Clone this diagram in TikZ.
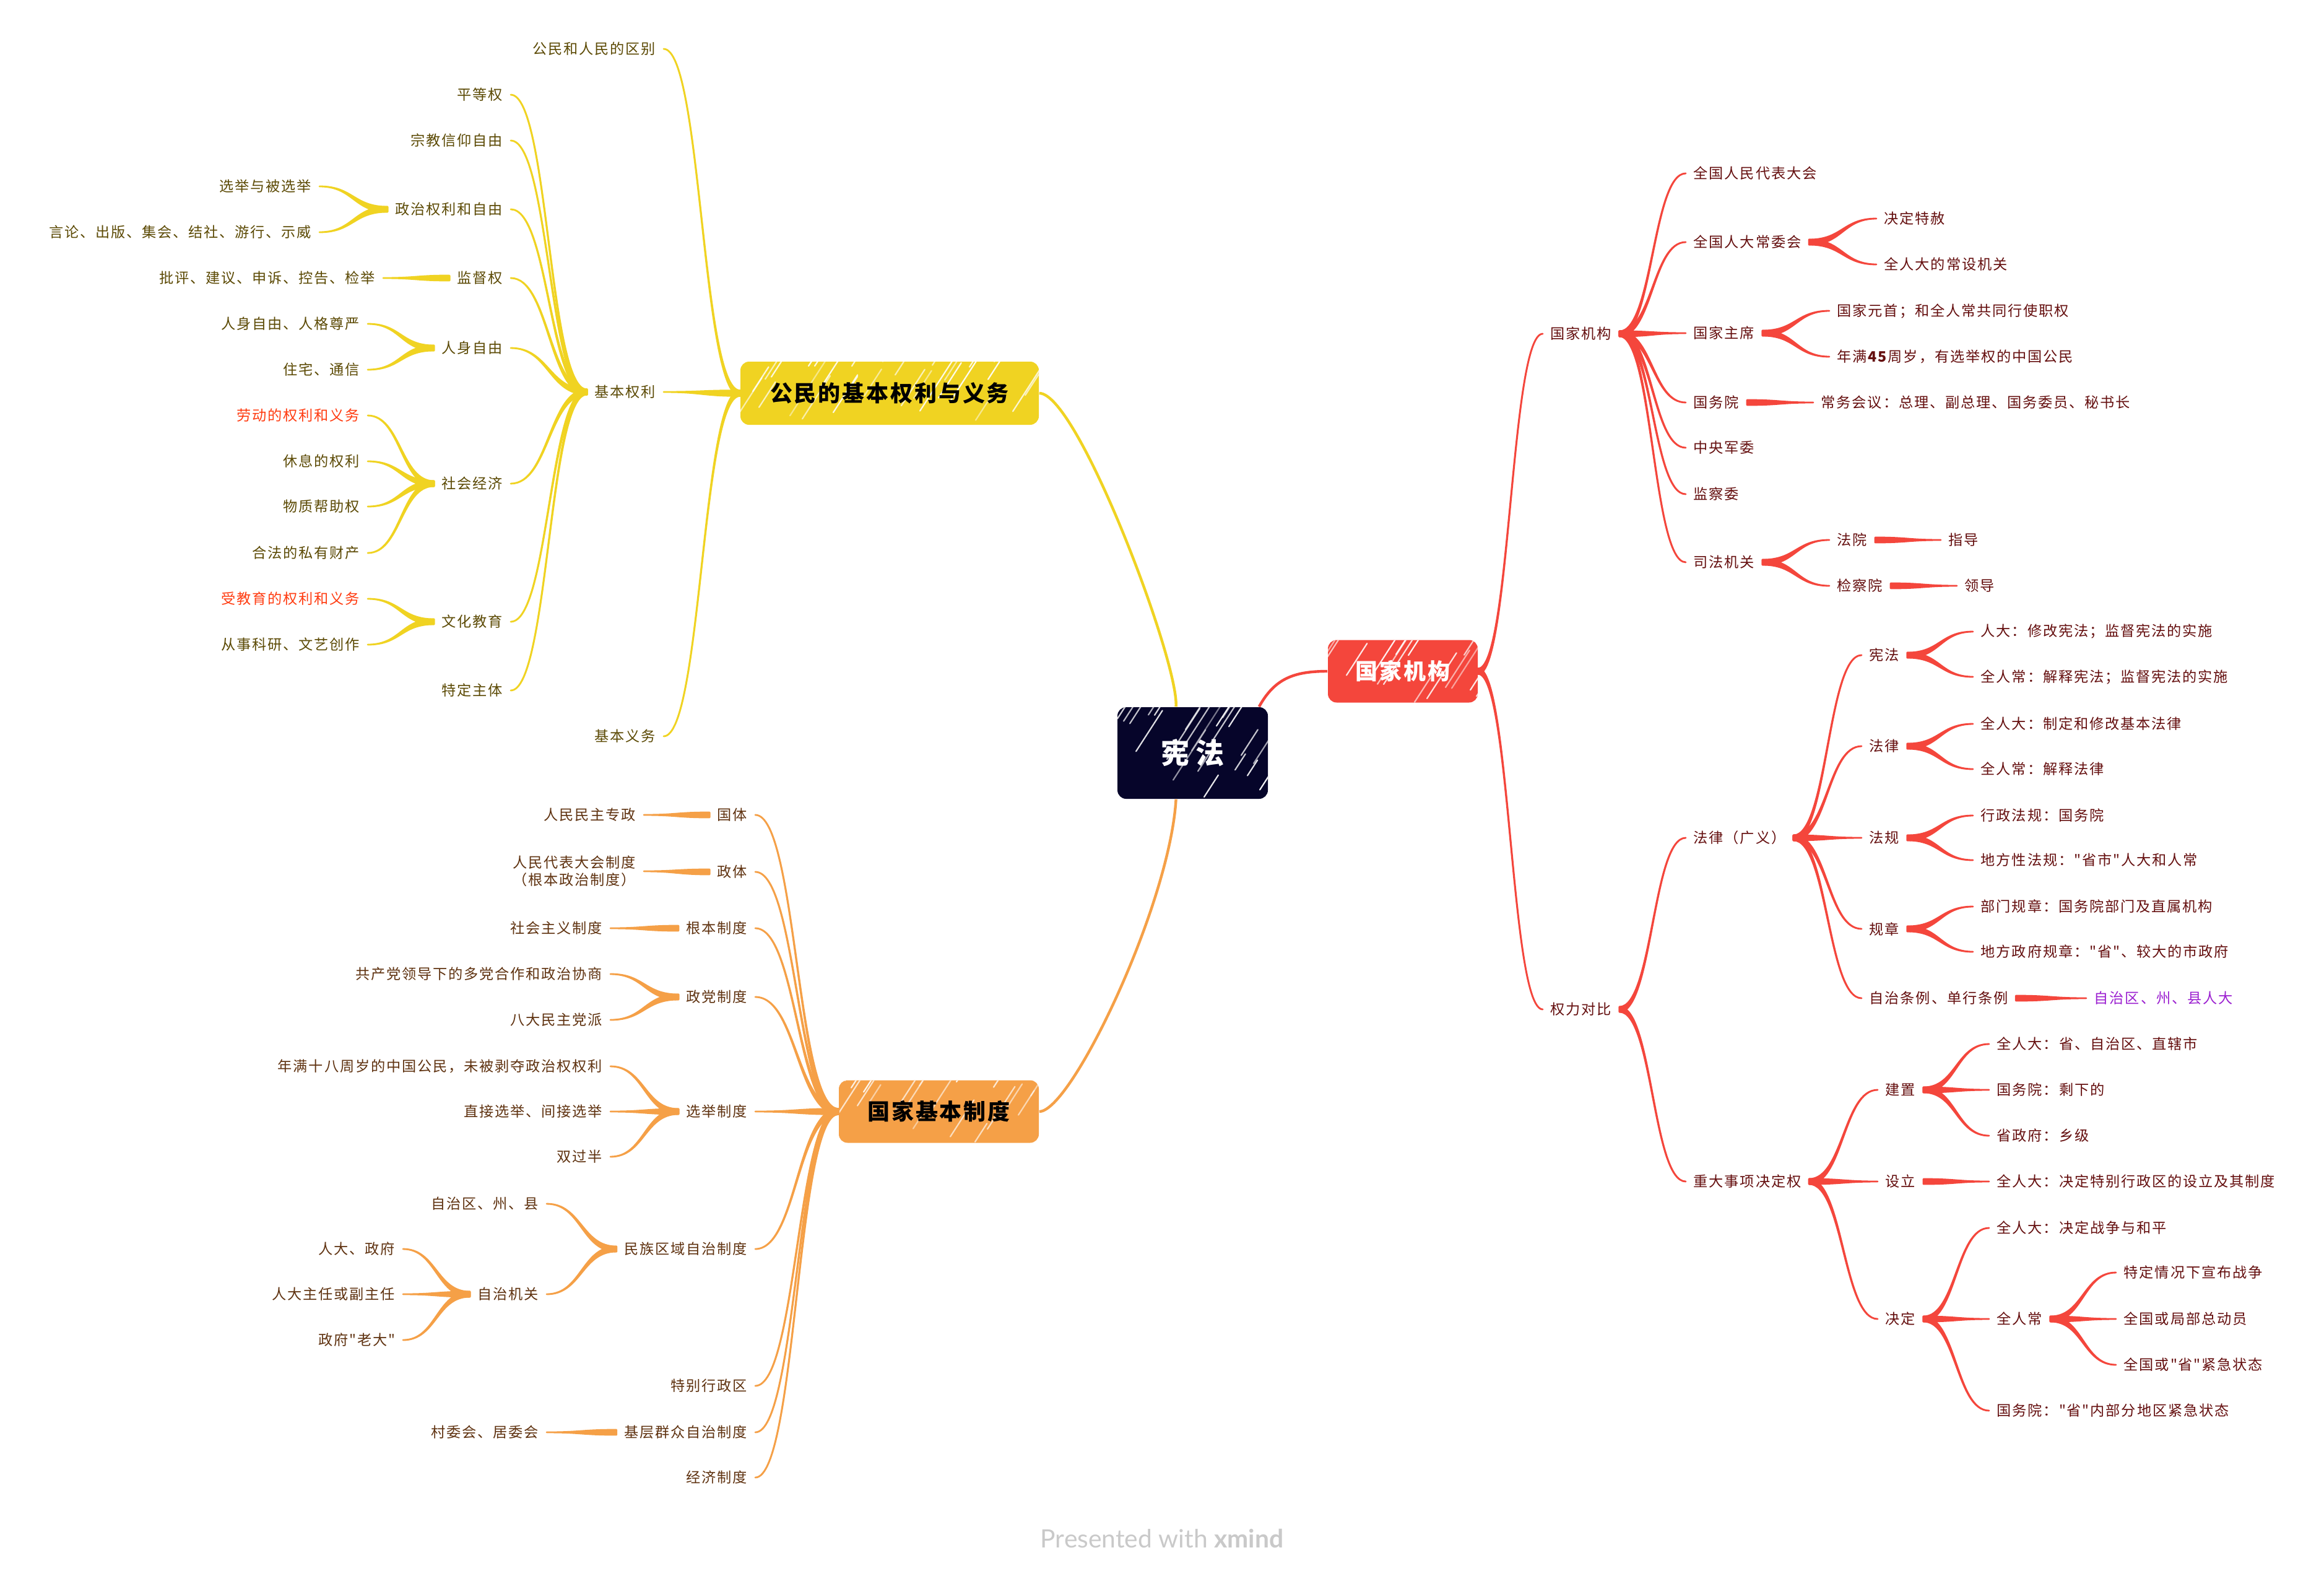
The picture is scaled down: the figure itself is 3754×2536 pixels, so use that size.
\documentclass[tikz,border=0pt]{standalone}
\usepackage{fontspec}
\setmainfont{Noto Sans CJK SC}
\newfontfamily\hand[LetterSpace=8]{Noto Sans CJK SC}
\newfontfamily\latof{Lato}
\usetikzlibrary{calc}
\definecolor{ylw}{HTML}{F0D322}
\definecolor{org}{HTML}{F5A047}
\definecolor{red}{HTML}{F4463C}
\definecolor{navy}{HTML}{06052A}
\definecolor{ytxt}{HTML}{5C4A05}
\definecolor{otxt}{HTML}{5F3210}
\definecolor{rtxt}{HTML}{650F0F}
\definecolor{hlt}{HTML}{FF3B10}
\definecolor{purp}{HTML}{9B1FD0}
\definecolor{footg}{HTML}{C9C9C9}
\newcommand\conn[4]{\filldraw[#3, line width=0.7pt, line join=round]
  let \p1=(#1), \p2=(#2), \p3=($(\p1)!0.5!(\p2)$) in
  (\x1,\y1+#4) .. controls (\x3,\y1+#4) and (\x3,\y2) .. (\x2,\y2)
  .. controls (\x3,\y2) and (\x3,\y1-#4) .. (\x1,\y1-#4) -- cycle;}
\tikzset{
  base/.style={inner xsep=3pt, inner ysep=1pt, font=\hand\fontsize{5.8pt}{7pt}\selectfont},
  L/.style={base, anchor=east},
  R/.style={base, anchor=west},
  yl/.style={L, text=ytxt},
  ol/.style={L, text=otxt},
  rr/.style={R, text=rtxt},
  hatch/.style={path picture={
    \pgfmathsetseed{#1}
    \foreach \i in {-100,-90,...,520}{
      \pgfmathsetmacro\ra{rnd*170}
      \pgfmathsetmacro\rb{25+rnd*110}
      \pgfmathsetmacro\ro{0.45+rnd*0.5}
      \draw[white, opacity=\ro, line width=0.55pt, line cap=round]
        ($(path picture bounding box.south west)+(\i,-\ra)$) -- ++(0.55*\rb,-0.85*\rb);
    }}},
  topic/.style={rounded corners=3.5pt, inner sep=0pt, font=\hand\bfseries\fontsize{9pt}{10pt}\selectfont},
}
\begin{document}
\begin{tikzpicture}[x=0.25pt,y=-0.25pt]
\fill[white] (0,0) rectangle (3754,2536);
\useasboundingbox (0,0) rectangle (3754,2536);

% central and main topics
\node[topic, fill=navy, hatch=3, minimum width=60.75pt, minimum height=37pt, text=white,
  font=\hand\bfseries\fontsize{11.5pt}{12pt}\selectfont] (c) at (1926.5,1216) {宪\hspace{2.5pt}法};
\node[topic, fill=ylw, hatch=5, minimum width=120.5pt, minimum height=25.5pt, text=black] (ty) at (1437,635) {公民的基本权利与义务};
\node[topic, fill=red, hatch=7, minimum width=60.5pt, minimum height=25.25pt, text=white] (tr) at (2266,1084) {国家机构};
\node[topic, fill=org, hatch=9, minimum width=80.75pt, minimum height=25.25pt, text=black] (to) at (1516.5,1795) {国家基本制度};

\draw[ylw, line width=1.1pt] ($(c.north west)!0.39!(c.north east)$) .. controls +(5,-72) and +(62,0) .. (ty.east);
\draw[org, line width=1.1pt] ($(c.south west)!0.39!(c.south east)$) .. controls +(-10,170) and +(52,0) .. (to.east);
\draw[red, line width=1.1pt] ($(c.north east)+(-15,0)$) .. controls +(25,-45) and +(-55,0) .. (tr.west);

% ===== yellow branch =====
\node[yl] (yA) at (1072,79) {公民和人民的区别};
\node[yl] (yB) at (1072,633) {基本权利};
\node[yl] (yC) at (1072,1189) {基本义务};
\node[yl] (yB1) at (825,153) {平等权};
\node[yl] (yB2) at (825,227) {宗教信仰自由};
\node[yl] (yB3) at (825,338) {政治权利和自由};
\node[yl] (yB4) at (825,449) {监督权};
\node[yl] (yB5) at (825,562) {人身自由};
\node[yl] (yB6) at (825,781) {社会经济};
\node[yl] (yB7) at (825,1004) {文化教育};
\node[yl] (yB8) at (825,1115) {特定主体};
\node[yl] (yB3a) at (516,301) {选举与被选举};
\node[yl] (yB3b) at (516,375) {言论、出版、集会、结社、游行、示威};
\node[yl] (yB4a) at (619,449) {批评、建议、申诉、控告、检举};
\node[yl] (yB5a) at (594,523) {人身自由、人格尊严};
\node[yl] (yB5b) at (594,597) {住宅、通信};
\node[yl, text=hlt] (yB6a) at (594,671) {劳动的权利和义务};
\node[yl] (yB6b) at (594,745) {休息的权利};
\node[yl] (yB6c) at (594,818) {物质帮助权};
\node[yl] (yB6d) at (594,893) {合法的私有财产};
\node[yl, text=hlt] (yB7a) at (594,967) {受教育的权利和义务};
\node[yl] (yB7b) at (594,1041) {从事科研、文艺创作};

\foreach \k in {yA,yB,yC}{\conn{ty.west}{\k.east}{ylw}{1.1pt}}
\foreach \k in {yB1,yB2,yB3,yB4,yB5,yB6,yB7,yB8}{\conn{yB.west}{\k.east}{ylw}{1pt}}
\foreach \k in {yB3a,yB3b}{\conn{yB3.west}{\k.east}{ylw}{1pt}}
\conn{yB4.west}{yB4a.east}{ylw}{1pt}
\foreach \k in {yB5a,yB5b}{\conn{yB5.west}{\k.east}{ylw}{1pt}}
\foreach \k in {yB6a,yB6b,yB6c,yB6d}{\conn{yB6.west}{\k.east}{ylw}{1pt}}
\foreach \k in {yB7a,yB7b}{\conn{yB7.west}{\k.east}{ylw}{1pt}}

% ===== orange branch =====
\node[ol] (o1) at (1220,1316) {国体};
\node[ol] (o2) at (1220,1408) {政体};
\node[ol] (o3) at (1220,1499) {根本制度};
\node[ol] (o4) at (1220,1610) {政党制度};
\node[ol] (o5) at (1220,1795) {选举制度};
\node[ol] (o6) at (1220,2017) {民族区域自治制度};
\node[ol] (o7) at (1220,2238) {特别行政区};
\node[ol] (o8) at (1220,2313) {基层群众自治制度};
\node[ol] (o9) at (1220,2386) {经济制度};
\node[ol] (o1a) at (1040,1316) {人民民主专政};
\node[ol, align=center] (o2a) at (1040,1407) {人民代表大会制度\\（根本政治制度）};
\node[ol] (o3a) at (986,1499) {社会主义制度};
\node[ol] (o4a) at (986,1573) {共产党领导下的多党合作和政治协商};
\node[ol] (o4b) at (986,1647) {八大民主党派};
\node[ol] (o5a) at (986,1722) {年满十八周岁的中国公民，未被剥夺政治权权利};
\node[ol] (o5b) at (986,1795) {直接选举、间接选举};
\node[ol] (o5c) at (986,1868) {双过半};
\node[ol] (o6a) at (883,1944) {自治区、州、县};
\node[ol] (o6b) at (883,2090) {自治机关};
\node[ol] (o6b1) at (651,2017) {人大、政府};
\node[ol] (o6b2) at (651,2090) {人大主任或副主任};
\node[ol] (o6b3) at (651,2164) {政府"老大"};
\node[ol] (o8a) at (883,2313) {村委会、居委会};

\foreach \k in {o1,o2,o3,o4,o5,o6,o7,o8,o9}{\conn{to.west}{\k.east}{org}{1.1pt}}
\conn{o1.west}{o1a.east}{org}{1pt}
\conn{o2.west}{o2a.east}{org}{1pt}
\conn{o3.west}{o3a.east}{org}{1pt}
\foreach \k in {o4a,o4b}{\conn{o4.west}{\k.east}{org}{1pt}}
\foreach \k in {o5a,o5b,o5c}{\conn{o5.west}{\k.east}{org}{1pt}}
\foreach \k in {o6a,o6b}{\conn{o6.west}{\k.east}{org}{1pt}}
\foreach \k in {o6b1,o6b2,o6b3}{\conn{o6b.west}{\k.east}{org}{1pt}}
\conn{o8.west}{o8a.east}{org}{1pt}

% ===== red branch =====
\node[rr] (rA) at (2492,539) {国家机构};
\node[rr] (rB) at (2492,1630) {权力对比};
\node[rr] (rA1) at (2723,280) {全国人民代表大会};
\node[rr] (rA2) at (2723,391) {全国人大常委会};
\node[rr] (rA3) at (2723,538) {国家主席};
\node[rr] (rA4) at (2723,650) {国务院};
\node[rr] (rA5) at (2723,723) {中央军委};
\node[rr] (rA6) at (2723,798) {监察委};
\node[rr] (rA7) at (2723,908) {司法机关};
\node[rr] (rA2a) at (3031,353) {决定特赦};
\node[rr] (rA2b) at (3031,427) {全人大的常设机关};
\node[rr] (rA3a) at (2955,502) {国家元首；和全人常共同行使职权};
\node[rr] (rA3b) at (2955,576) {年满\textbf{45}周岁，有选举权的中国公民};
\node[rr] (rA4a) at (2929,650) {常务会议：总理、副总理、国务委员、秘书长};
\node[rr] (rA7a) at (2955,872) {法院};
\node[rr] (rA7b) at (2955,946) {检察院};
\node[rr] (rA7a1) at (3135,872) {指导};
\node[rr] (rA7b1) at (3161,946) {领导};

\node[rr] (rB1) at (2723,1353) {法律（广义）};
\node[rr] (rB2) at (2723,1908) {重大事项决定权};
\node[rr] (p1) at (3007,1058) {宪法};
\node[rr] (p2) at (3007,1205) {法律};
\node[rr] (p3) at (3007,1353) {法规};
\node[rr] (p4) at (3007,1500) {规章};
\node[rr] (p5) at (3007,1612) {自治条例、单行条例};
\node[rr] (p1a) at (3187,1020) {人大：修改宪法；监督宪法的实施};
\node[rr] (p1b) at (3187,1093) {全人常：解释宪法；监督宪法的实施};
\node[rr] (p2a) at (3187,1169) {全人大：制定和修改基本法律};
\node[rr] (p2b) at (3187,1242) {全人常：解释法律};
\node[rr] (p3a) at (3187,1317) {行政法规：国务院};
\node[rr] (p3b) at (3187,1389) {地方性法规："省市"人大和人常};
\node[rr] (p4a) at (3187,1464) {部门规章：国务院部门及直属机构};
\node[rr] (p4b) at (3187,1537) {地方政府规章："省"、较大的市政府};
\node[rr, text=purp] (p5a) at (3370,1612) {自治区、州、县人大};

\node[rr] (q1) at (3033,1760) {建置};
\node[rr] (q2) at (3033,1908) {设立};
\node[rr] (q3) at (3033,2130) {决定};
\node[rr] (q1a) at (3213,1686) {全人大：省、自治区、直辖市};
\node[rr] (q1b) at (3213,1760) {国务院：剩下的};
\node[rr] (q1c) at (3213,1834) {省政府：乡级};
\node[rr] (q2a) at (3213,1908) {全人大：决定特别行政区的设立及其制度};
\node[rr] (q3a) at (3213,1983) {全人大：决定战争与和平};
\node[rr] (q3b) at (3213,2130) {全人常};
\node[rr] (q3c) at (3213,2278) {国务院："省"内部分地区紧急状态};
\node[rr] (q3b1) at (3418,2055) {特定情况下宣布战争};
\node[rr] (q3b2) at (3418,2130) {全国或局部总动员};
\node[rr] (q3b3) at (3418,2204) {全国或"省"紧急状态};

\foreach \k in {rA,rB}{\conn{tr.east}{\k.west}{red}{1.1pt}}
\foreach \k in {rA1,rA2,rA3,rA4,rA5,rA6,rA7}{\conn{rA.east}{\k.west}{red}{1pt}}
\foreach \k in {rA2a,rA2b}{\conn{rA2.east}{\k.west}{red}{1pt}}
\foreach \k in {rA3a,rA3b}{\conn{rA3.east}{\k.west}{red}{1pt}}
\conn{rA4.east}{rA4a.west}{red}{1pt}
\foreach \k in {rA7a,rA7b}{\conn{rA7.east}{\k.west}{red}{1pt}}
\conn{rA7a.east}{rA7a1.west}{red}{1pt}
\conn{rA7b.east}{rA7b1.west}{red}{1pt}
\foreach \k in {rB1,rB2}{\conn{rB.east}{\k.west}{red}{1pt}}
\foreach \k in {p1,p2,p3,p4,p5}{\conn{rB1.east}{\k.west}{red}{1pt}}
\foreach \k in {p1a,p1b}{\conn{p1.east}{\k.west}{red}{1pt}}
\foreach \k in {p2a,p2b}{\conn{p2.east}{\k.west}{red}{1pt}}
\foreach \k in {p3a,p3b}{\conn{p3.east}{\k.west}{red}{1pt}}
\foreach \k in {p4a,p4b}{\conn{p4.east}{\k.west}{red}{1pt}}
\conn{p5.east}{p5a.west}{red}{1pt}
\foreach \k in {q1,q2,q3}{\conn{rB2.east}{\k.west}{red}{1pt}}
\foreach \k in {q1a,q1b,q1c}{\conn{q1.east}{\k.west}{red}{1pt}}
\conn{q2.east}{q2a.west}{red}{1pt}
\foreach \k in {q3a,q3b,q3c}{\conn{q3.east}{\k.west}{red}{1pt}}
\foreach \k in {q3b1,q3b2,q3b3}{\conn{q3b.east}{\k.west}{red}{1pt}}

% footer
\node[font=\latof\fontsize{10.2pt}{12pt}\selectfont, text=footg] (ft) at (1877,2484) {Presented with \textbf{xmind}};
\end{tikzpicture}
\end{document}
